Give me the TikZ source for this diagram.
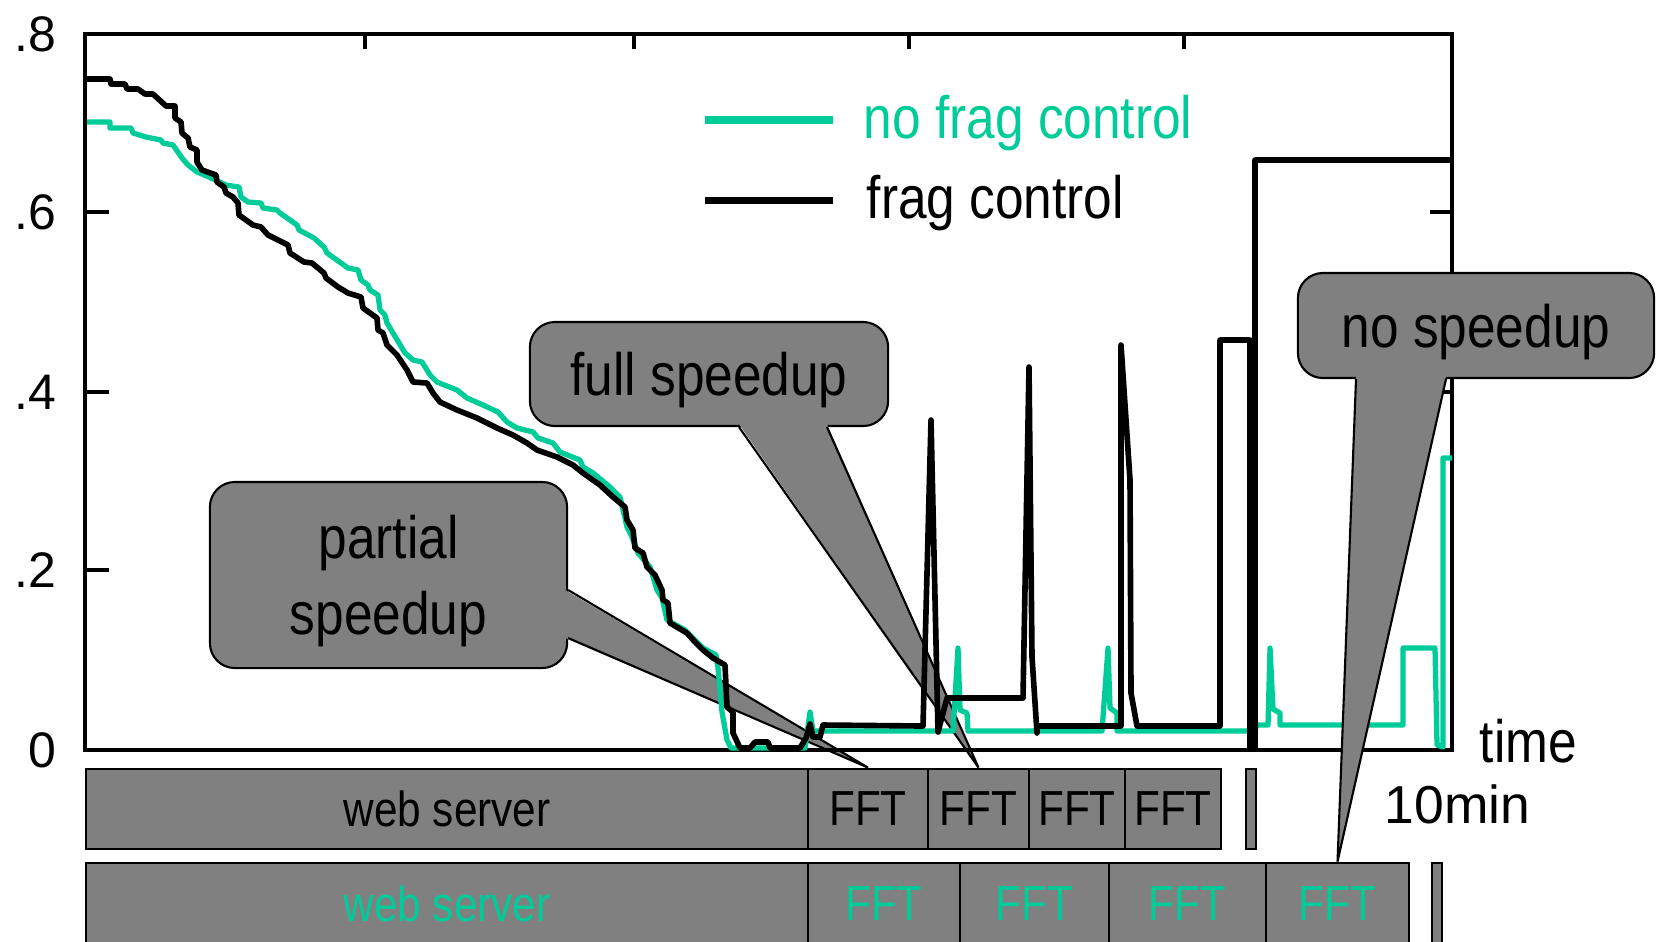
\documentclass[tikz,border=0pt]{standalone}
\usepackage{fontspec}
\setmainfont{Liberation Sans}
\newfontfamily\narrowfont[FakeStretch=0.86]{Liberation Sans}
\usepackage{tikz}
\usetikzlibrary{positioning,calc}
\definecolor{fraggreen}{RGB}{0,204,153}
\definecolor{boxgray}{RGB}{128,128,128}

\begin{document}
\begin{tikzpicture}[x=0.01cm,y=-0.01cm,
		bar/.style={draw,fill=boxgray,line width=0.8pt,inner sep=0pt,minimum height=0.8cm,font=\narrowfont\fontsize{14}{16}\selectfont},
		callout/.style={draw,fill=boxgray,line width=0.6pt,rounded corners=0.25cm,align=center,inner sep=0pt,text depth=0pt,font=\narrowfont\fontsize{17}{21.6}\selectfont},
		lbl/.style={inner sep=0pt,font=\narrowfont\fontsize{17}{20}\selectfont},
		num/.style={inner sep=0pt,font=\fontsize{14.2}{16}\selectfont}]
	\useasboundingbox (0,0) rectangle (1661,941);
	\clip (0,0) rectangle (1661,941);
	
	% schedule bars
	\foreach \a/\b/\t [count=\n] in {86/808/web server,808/928/FFT,928/1029/FFT,1029/1125/FFT,1125/1221/FFT,1246/1256/{}}
	\node[bar,minimum width={(\b-\a)*0.01cm}](r\n) at ({(\a+\b)/2},809) {\t};
	\foreach \a/\b/\t [count=\n] in {86/808/web server,808/960/FFT,960/1109/FFT,1109/1266/FFT,1266/1409/FFT,1432/1442/{}}
	\node[bar,text=fraggreen,minimum height=0.82cm,minimum width={(\b-\a)*0.01cm}](g\n) at ({(\a+\b)/2},904) {\t};
	
	% callouts under the curves
	\node[callout,minimum width=3.57cm,minimum height=1.86cm](partial) at (388.5,575) {partial\\speedup};
	\fill[boxgray] ($(partial.east)+(-3,15)$) -- (r2.north) -- ($(partial.east)+(-3,63)$) -- cycle;
	\draw[line width=0.6pt] ($(partial.east)+(0,15)$) -- (r2.north) -- ($(partial.east)+(0,63)$);
	\node[callout,minimum width=3.58cm,minimum height=1.04cm](full) at (709,374) {full speedup};
	\fill[boxgray] ($(full.south)+(30,-3)$) -- (r3.north) -- ($(full.south)+(118,-3)$) -- cycle;
	\draw[line width=0.6pt] ($(full.south)+(30,0)$) -- (r3.north) -- ($(full.south)+(118,0)$);
	
	% frame and ticks
	\draw[line width=1pt] (85,34) rectangle (1452,750);
	\foreach \y in {212,392,570} \draw[line width=1pt] (85,\y) -- (109,\y);
	\foreach \y in {212,392} \draw[line width=1pt] (1452,\y) -- (1430,\y);
	\foreach \x in {365,634,909,1184} \draw[line width=1pt] (\x,34) -- (\x,49);
	\foreach \v/\y in {.8/34,.6/212,.4/392,.2/570,0/750}
	\node[num,anchor=east](y\y) at (57,\y) {\v};
	\node[lbl,anchor=base west](time) at (1479,762) {time};
	\node[num,anchor=base west,font=\fontsize{15.2}{17}\selectfont](tenmin) at (1384,823) {10min};
	
	% no frag control
	\draw[fraggreen,line width=1.5pt,line join=round] plot coordinates {(87,122) (110,122) (110,128) (131,128) (133,133) (146,137) (161,140) (163,143) (173,145) (182,158) (188,165) (197,172) (209,177) (226,185) (239,187) (241,197) (248,202) (261,203) (263,208) (277,210) (280,213) (297,225) (299,230) (314,238) (324,247) (327,253) (348,268) (358,270) (361,280) (368,285) (370,290) (378,295) (380,310) (385,315) (387,323) (393,333) (405,353) (413,360) (422,362) (430,375) (437,382) (457,390) (467,398) (483,405) (498,412) (507,422) (517,428) (533,432) (538,438) (553,443) (560,452) (580,460) (583,467) (593,473) (610,487) (620,497) (627,527) (632,537) (638,553) (650,567) (657,590) (662,598) (667,620) (685,630) (695,640) (703,648) (716,655) (718,668) (722,712) (727,740) (731,748) (805,748) (810,712) (813,731) (953,731) (958,648) (960,710) (967,713) (968,731) (1102,731) (1108,648) (1110,708) (1117,713) (1117,731) (1252,731) (1258,725) (1268,725) (1270,648) (1273,709) (1280,713) (1280,725) (1403,725) (1403,648) (1435,648) (1437,745) (1443,747) (1443,458) (1452,458)};
	% frag control
	\draw[line width=1.6pt,line join=round] plot coordinates {(87,79) (110,79) (111,84) (125,84) (127,89) (138,89) (145,94) (153,94) (166,106) (175,106) (175,118) (181,122) (182,133) (188,138) (190,147) (197,150) (197,162) (202,170) (216,175) (217,182) (224,187) (226,193) (233,197) (238,203) (239,215) (253,225) (261,227) (268,235) (282,242) (288,245) (290,253) (304,262) (312,263) (324,273) (326,278) (338,287) (348,293) (361,297) (363,308) (377,318) (378,330) (383,333) (387,345) (397,355) (407,370) (413,382) (427,383) (433,393) (440,402) (457,410) (477,418) (497,428) (513,435) (527,443) (537,450) (557,457) (573,465) (583,473) (600,485) (613,497) (625,507) (627,520) (633,530) (635,548) (643,553) (647,567) (655,575) (662,590) (663,600) (668,603) (670,623) (687,633) (695,642) (703,650) (713,658) (725,665) (727,707) (733,712) (733,733) (740,748) (750,748) (755,742) (768,742) (770,748) (800,748) (806,738) (810,724) (813,737) (820,737) (823,725) (923,726) (931,420) (938,732) (947,698) (1023,698) (1029,367) (1032,657) (1037,733) (1037,726) (1121,726) (1121,345) (1130,480) (1131,693) (1137,726) (1220,726) (1220,340) (1250,340) (1250,749) (1255,749) (1255,160) (1452,160)};
	
	% legend
	\draw[fraggreen,line width=2pt] (705,120) -- (833,120);
	\node[lbl,anchor=base west,text=fraggreen](lgnofrag) at (863,138) {no frag control};
	\draw[line width=2pt] (705,200) -- (833,200);
	\node[lbl,anchor=base west](lgfrag) at (866,218) {frag control};
	
	% callout over the curves
	\node[callout,minimum width=3.56cm,minimum height=1.05cm](nosp) at (1476,325.5) {no speedup};
	\fill[boxgray] ($(nosp.south)+(-120,-3)$) -- (g5.north) -- ($(nosp.south)+(-30,-3)$) -- cycle;
	\draw[line width=0.6pt] ($(nosp.south)+(-120,0)$) -- (g5.north) -- ($(nosp.south)+(-30,0)$);
\end{tikzpicture}
\end{document}
